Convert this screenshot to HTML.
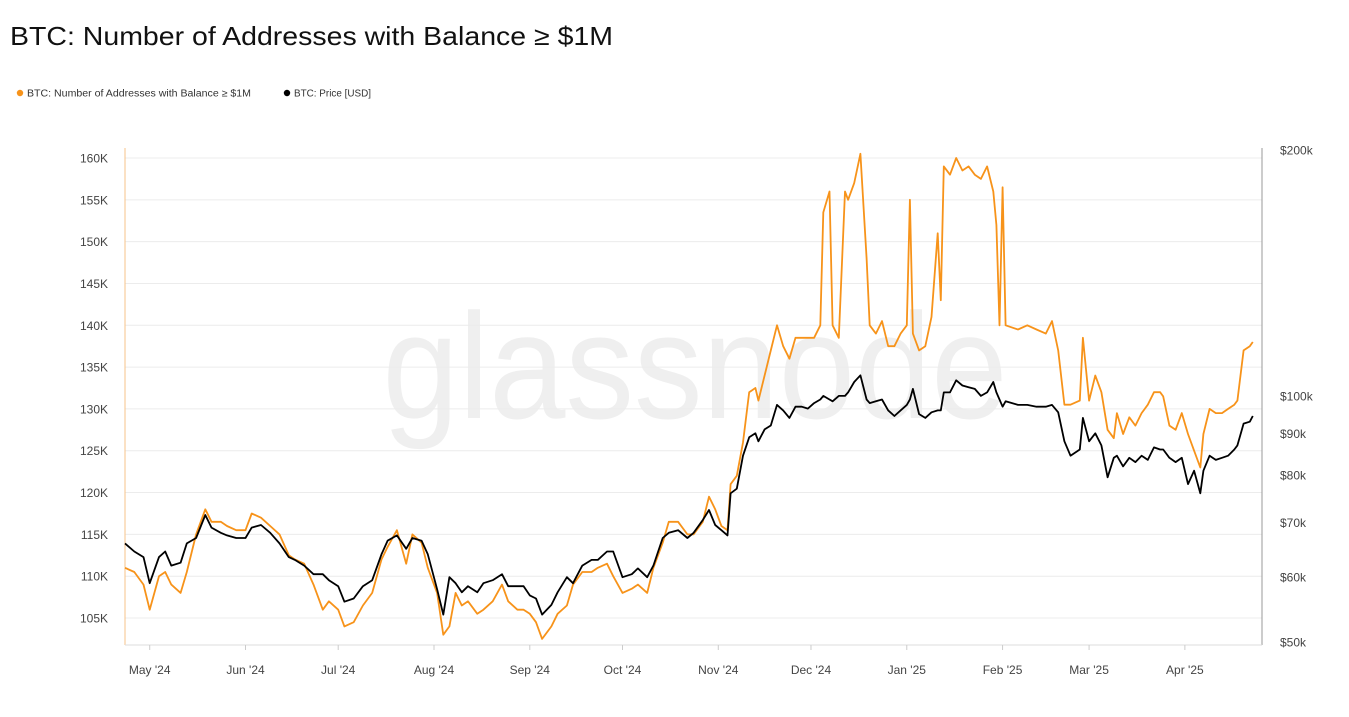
<!DOCTYPE html>
<html><head><meta charset="utf-8">
<style>
html,body{margin:0;padding:0;background:#fff;width:1349px;height:717px;overflow:hidden;font-family:"Liberation Sans",sans-serif;}
svg{position:absolute;left:0;top:0}
</style></head>
<body>
<svg id="chart" width="1349" height="717">
  <text x="10" y="45" font-size="26" fill="#111" textLength="603" lengthAdjust="spacingAndGlyphs">BTC: Number of Addresses with Balance ≥ $1M</text>
  <g>
    <g>
      <circle cx="20" cy="93" r="3.2" fill="#f7931a"/>
      <text x="27" y="96.5" font-size="10" fill="#333" textLength="224" lengthAdjust="spacingAndGlyphs">BTC: Number of Addresses with Balance ≥ $1M</text>
    </g>
    <g>
      <circle cx="287" cy="93" r="3.2" fill="#000"/>
      <text x="294" y="96.5" font-size="10" fill="#333" textLength="77" lengthAdjust="spacingAndGlyphs">BTC: Price [USD]</text>
    </g>
  </g>
  <text x="695" y="418" font-size="150" fill="#efefef" text-anchor="middle" textLength="625" lengthAdjust="spacingAndGlyphs">glassnode</text>
  <g id="grid"></g>
  <g id="axes"></g>
  <g id="series"></g>
</svg>
<script>
const days=[0,3,6,8,11,13,15,18,20,23,26,28,31,33,36,39,41,44,47,50,53,55,58,61,64,66,69,71,74,77,80,83,85,88,91,93,96,98,101,103,105,107,109,111,114,116,119,122,124,127,129,131,133,135,138,140,143,145,148,151,153,156,158,161,164,166,169,171,174,176,179,182,184,187,189,191,193,195,196,198,200,202,204,205,207,209,211,213,215,217,219,221,223,225,226,228,229,231,233,234,236,238,240,241,243,245,247,249,251,253,254,255,257,259,261,263,264,265,267,269,271,273,275,277,279,281,282,283,284,285,289,292,295,298,300,302,304,306,309,310,312,314,316,318,320,321,323,325,327,329,331,333,335,336,338,340,342,344,346,348,349,351,353,355,357,359,360,362,364,365];
const addresses=[111,110.5,109,106,110,110.5,109,108,110.5,115,118,116.5,116.5,116,115.5,115.5,117.5,117,116,115,112.5,112,111.5,109,106,107,106,104,104.5,106.5,108,112,113.5,115.5,111.5,115,114,111,108,103,104,108,106.5,107,105.5,106,107,109,107,106,106,105.5,104.5,102.5,104,105.5,106.5,109,110.5,110.5,111,111.5,110,108,108.5,109,108,111,114,116.5,116.5,115,115,116.5,119.5,118,116,115.5,121,122,126,132,132.5,131,134,137,140,137.5,136,138.5,138.5,138.5,138.5,140,153.5,156,140,138.5,156,155,157,160.5,148,140,139,140.5,137.5,137.5,139,140,155,139,137,137.5,141,151,143,159,158,160,158.5,159,158,157.5,159,156,152,140,156.5,140,139.5,140,139.5,139,140.5,137,130.5,130.5,131,138.5,131,134,132,127.5,126.5,129.5,127,129,128,129.5,130.5,132,132,131.5,128,127.5,129.5,127,125,123,127,130,129.5,129.5,130,130.5,131,137,137.5,138];
const price=[66,64.5,63.5,59,63.5,64.5,62,62.5,66,67,71.5,69,68,67.5,67,67,69,69.5,68,66,63.5,63,62,60.5,60.5,59.5,58.5,56,56.5,58.5,59.5,64,66.5,67.5,65,67,66.5,64,58,54,60,59,57.5,58.5,57.5,59,59.5,60.5,58.5,58.5,58.5,57,56.5,54,55.5,57.5,60,59,62,63,63,64.5,64.5,60,60.5,61.5,60,62,67,68,68.5,67,68,70.5,72.5,69.5,68.5,67.5,76,77,84.5,89,90,88,91,92,97.5,96,94,97,97,96.5,98,99,100,99,98.5,100,100,101,104,106,99,98,98.5,99,96,94.5,96,97.5,99,102,95,94,95.5,96,96,101,101,104.5,103,102.5,102,100,101,104,101,99,97,98.5,97.5,97.5,97,97,97.5,95.5,88,84.5,86,94,88,90,87,79.5,84,84.5,82,84,83,84.5,83.5,86.5,86,86,84,83,84,78,81,76,81,84.5,83.5,84,84.5,86,87,92.5,93,94.5];
const leftTicks=[105,110,115,120,125,130,135,140,145,150,155,160];
const rightTicks=[50,60,70,80,90,100,200];
const monthLabels=["May '24","Jun '24","Jul '24","Aug '24","Sep '24","Oct '24","Nov '24","Dec '24","Jan '25","Feb '25","Mar '25","Apr '25"];
const monthDays=[8,39,69,100,131,161,192,222,253,284,312,343];

const NS="http://www.w3.org/2000/svg";
const X0=125,X1=1262,PX=3.09;
const xS=d=>X0+d*PX;
const yL=v=>158+(160-v)*8.364;
const yR=v=>150+(Math.log10(200)-Math.log10(v))*817;
function mk(tag,attrs,parent,txt){const e=document.createElementNS(NS,tag);for(const k in attrs)e.setAttribute(k,attrs[k]);if(txt!==undefined)e.textContent=txt;parent.appendChild(e);return e;}
const grid=document.getElementById('grid'),axes=document.getElementById('axes'),series=document.getElementById('series');
leftTicks.forEach(v=>{
  const l=mk('line',{x1:X0,x2:X1,y1:yL(v),y2:yL(v),stroke:'#ececec','stroke-width':1},grid);
  
  
  const t=mk('text',{x:108,y:yL(v)+4.5,'font-size':12,fill:'#444','text-anchor':'end'},axes,v+'K');
  
  
});
rightTicks.forEach(v=>{
  const t=mk('text',{x:1280,y:yR(v)+4.5,'font-size':12,fill:'#444'},axes,'$'+v+'k');
  
  
});
const la=mk('line',{x1:X0,x2:X0,y1:148,y2:645,stroke:'#f7c38a','stroke-width':1},axes);


const ra=mk('line',{x1:X1,x2:X1,y1:148,y2:645,stroke:'#999','stroke-width':1},axes);


const ba=mk('line',{x1:X0,x2:X1,y1:645,y2:645,stroke:'#ddd','stroke-width':1},axes);


monthLabels.forEach((m,i)=>{
  const t=mk('text',{x:xS(monthDays[i]),y:674,'font-size':12,fill:'#444','text-anchor':'middle'},axes,m);
  
  
  const tk=mk('line',{x1:xS(monthDays[i]),x2:xS(monthDays[i]),y1:645,y2:650,stroke:'#ccc'},axes);
  
  
});
const pa=mk('path',{d:addresses.map((v,i)=>(i?'L':'M')+xS(days[i]).toFixed(1)+','+yL(v).toFixed(1)).join(''),fill:'none',stroke:'#f7931a','stroke-width':1.8,'stroke-linejoin':'round'},series);


const pp=mk('path',{d:price.map((v,i)=>(i?'L':'M')+xS(days[i]).toFixed(1)+','+yR(v).toFixed(1)).join(''),fill:'none',stroke:'#000','stroke-width':1.8,'stroke-linejoin':'round'},series);


</script>
</body></html>
